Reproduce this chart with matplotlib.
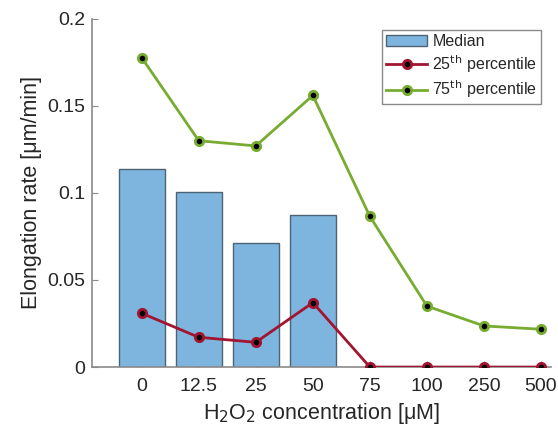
import numpy as np
import matplotlib.pyplot as plt

plt.rcParams['font.family'] = ['Liberation Sans', 'DejaVu Sans']

# data
conc_labels = ['0', '12.5', '25', '50', '75', '100', '250', '500']
median = [0.1136, 0.1008, 0.0711, 0.0875]
p25 = [0.0309, 0.0171, 0.0142, 0.0370, 0.0, 0.0, 0.0, 0.0]
p75 = [0.1777, 0.1300, 0.1270, 0.1560, 0.0865, 0.0350, 0.0236, 0.0217]

x = np.arange(1, len(conc_labels) + 1)

fig = plt.figure(figsize=(5.58, 4.38), dpi=100)
ax = fig.add_axes([0.165, 0.162, 0.823, 0.795])

ax.bar(x[:len(median)], median, width=0.8, color='#7DB5DF', edgecolor='#4d6272',
       linewidth=1.0, label='Median', zorder=2)
ax.plot(x, p25, color='#A2142F', linewidth=2, marker='o', markersize=6,
        markerfacecolor='black', markeredgecolor='#A2142F', markeredgewidth=2,
        label='25$^{\\mathrm{th}}$ percentile', zorder=3)
ax.plot(x, p75, color='#77AC30', linewidth=2, marker='o', markersize=6,
        markerfacecolor='black', markeredgecolor='#77AC30', markeredgewidth=2,
        label='75$^{\\mathrm{th}}$ percentile', zorder=3)

ax.set_xlim(0.13, 8.18)
ax.set_ylim(0, 0.2)
ax.set_xticks(x)
ax.set_xticklabels(conc_labels)
ax.set_yticks([0, 0.05, 0.1, 0.15, 0.2])
ax.set_yticklabels(['0', '0.05', '0.1', '0.15', '0.2'])

for s in ['top', 'right']:
    ax.spines[s].set_visible(False)
for s in ['left', 'bottom']:
    ax.spines[s].set_color('#8a8a8a')
    ax.spines[s].set_linewidth(1.2)
ax.tick_params(direction='in', length=4, color='#8a8a8a', labelsize=14,
               labelcolor='#262626', pad=5)
ax.tick_params(axis='x', pad=8)

ax.set_xlabel('H$_2$O$_2$ concentration [μM]', fontsize=15.5, color='#262626',
              labelpad=4)
ax.set_ylabel('Elongation rate [μm/min]', fontsize=15.5, color='#262626',
              labelpad=4)

handles, labels = ax.get_legend_handles_labels()
order = [2, 0, 1]
leg = ax.legend([handles[i] for i in order], [labels[i] for i in order],
                loc='upper right', bbox_to_anchor=(0.978, 0.968), fontsize=11.5,
                fancybox=False, framealpha=1, edgecolor='#8a8a8a',
                handlelength=2.6, handletextpad=0.3, borderpad=0.25,
                labelspacing=0.25, borderaxespad=0)
for t in leg.get_texts():
    t.set_color('#262626')

fig.savefig('out.png', dpi=100)
